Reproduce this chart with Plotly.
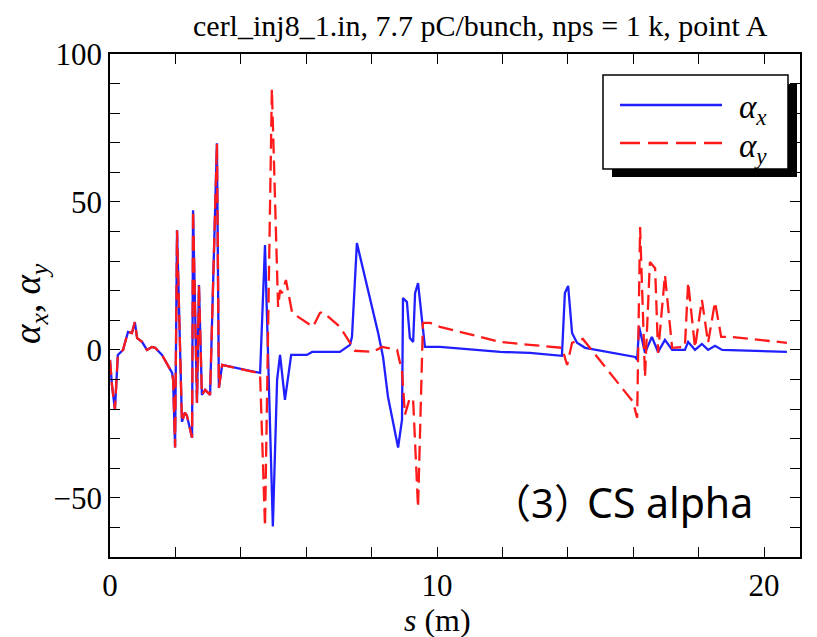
import plotly.graph_objects as go

# ---- data ----
s_x = [0.00, 0.06, 0.15, 0.24, 0.40, 0.55, 0.67, 0.76, 0.83, 0.98, 1.13, 1.28, 1.38, 1.59, 1.90, 1.93,
       1.99, 2.05, 2.20, 2.29, 2.35, 2.51, 2.54, 2.66, 2.72, 2.81, 2.91, 3.06, 3.27, 3.33, 3.43, 4.53,
       4.59, 4.74, 4.98, 5.11, 5.20, 5.35, 5.54, 6.02, 6.18, 7.03, 7.34, 7.40, 7.55, 8.20, 8.35, 8.50,
       8.81, 8.93, 8.96, 9.08, 9.17, 9.27, 9.33, 9.42, 9.57, 9.63, 10.09, 11.93, 12.84, 13.82, 13.91,
       14.01, 14.13, 14.28, 14.53, 16.06, 16.12, 16.18, 16.36, 16.57, 16.76, 16.97, 17.19, 17.58, 17.68,
       17.89, 18.10, 18.29, 18.50, 18.72, 20.70]
alpha_x = [-3.4, -11.8, -20.2, -1.7, 0.0, 6.1, 5.7, 9.4, 4.0, 2.7, 0.0, 1.0, 0.7, -1.7, -7.8, -10.1,
           -33.0, 40.4, -24.3, -21.2, -22.2, -29.7, 47.2, -17.9, 21.9, -15.2, -13.5, -15.2, 69.8, -12.8, -5.1, -7.8,
           -7.8, 35.4, -59.7, -10.1, -1.7, -16.9, -1.7, -1.7, -0.7, -0.7, 1.7, 4.4, 36.1, 5.7, -2.4, -15.8,
           -33.0, -23.6, 17.5, 16.2, 4.0, 2.7, 19.2, 22.6, 7.8, 1.0, 1.0, -0.7, -1.0, -2.0, 19.2,
           21.6, 5.7, 2.4, 0.7, -2.4, -3.4, 7.8, -1.0, 4.4, -0.7, 3.4, 0.0, 0.0, 2.7,
           0.0, 2.0, 0.0, 1.4, 0.0, -0.7]

s_y = [0.00, 0.06, 0.15, 0.24, 0.40, 0.55, 0.67, 0.76, 0.83, 0.98, 1.13, 1.28, 1.38, 1.59, 1.90, 1.93,
       1.99, 2.05, 2.20, 2.29, 2.35, 2.51, 2.54, 2.66, 2.72, 2.81, 2.91, 3.06, 3.27, 3.33, 3.43, 4.53,
       4.59, 4.74, 4.95, 5.14, 5.20, 5.26, 5.38, 5.57, 6.21, 6.42, 6.51, 7.03, 7.25, 7.49, 8.04, 8.32,
       8.78, 8.93, 9.02, 9.17, 9.27, 9.42, 9.57, 9.79, 10.09, 11.93, 12.84, 13.82, 13.98, 14.13, 14.46,
       15.99, 16.12, 16.21, 16.36, 16.51, 16.67, 16.76, 16.97, 17.19, 17.58, 17.68, 17.89, 18.10, 18.29,
       18.50, 18.69, 18.96, 20.70]
alpha_y = [-3.4, -11.8, -20.2, -1.7, 0.0, 6.1, 5.7, 9.4, 4.0, 2.7, 0.0, 1.0, 0.7, -1.7, -7.8, -10.1,
           -33.0, 40.4, -24.3, -21.2, -22.2, -29.7, 47.2, -17.9, 21.9, -15.2, -13.5, -15.2, 69.8, -12.8, -5.1, -7.8,
           -8.4, -59.7, 88.3, 14.5, 20.2, 19.2, 23.6, 12.5, 7.8, 12.5, 12.8, 7.8, 4.0, -0.3, -0.7, 1.0,
           0.0, -7.4, -21.9, -16.2, -16.9, -53.3, 9.1, 9.1, 7.8, 2.7, 1.7, 0.7, -5.1, 2.4, 3.7,
           -17.5, -22.9, 41.5, -9.1, 29.7, 27.6, -1.0, 25.3, 0.7, 1.0, 22.9, 0.7, 16.9, 2.4,
           16.2, 4.4, 4.4, 2.4]

x_tick_vals = [0, 10, 20]
y_tick_vals = [-50, 0, 50, 100]
y_tick_text = ["−50", "0", "50", "100"]
title_text = "cerl_inj8_1.in, 7.7 pC/bunch, nps = 1 k, point A"
legend_labels = ["<i>α<sub>x</sub></i>", "<i>α<sub>y</sub></i>"]
panel_number = "（3）"
panel_label = "CS alpha"

BLUE = "#1f1fff"
RED = "#ff1a1a"
SERIF = "Liberation Serif, Times New Roman, serif"
SANS = "Noto Sans, Noto Sans CJK JP"

W, H = 817, 637
L, R, T, B = 110, 17, 54, 80
PW, PH = W - L - R, H - T - B


def px(x):
    return (x - L) / PW


def py(y):
    return (H - B - y) / PH


fig = go.Figure()
fig.add_trace(go.Scatter(x=s_x, y=alpha_x, mode="lines", name="αx",
                         line=dict(color=BLUE, width=2.3), showlegend=False))
fig.add_trace(go.Scatter(x=s_y, y=alpha_y, mode="lines", name="αy",
                         line=dict(color=RED, width=2.3, dash="15px,7px"), showlegend=False))

axis_common = dict(showline=True, linecolor="black", linewidth=1.5, mirror="ticks",
                   ticks="inside", ticklen=10, tickwidth=1.2, tickcolor="black",
                   showgrid=False, zeroline=False,
                   tickfont=dict(family=SERIF, size=31, color="black"))

fig.update_xaxes(range=[0, 21.1], tickvals=x_tick_vals,
                 minor=dict(dtick=2, ticks="inside", ticklen=10, tickcolor="black", tickwidth=1.2, showgrid=False),
                 **axis_common)
fig.update_yaxes(range=[-70, 100], tickvals=y_tick_vals, ticktext=y_tick_text,
                 minor=dict(dtick=10, ticks="inside", ticklen=10, tickcolor="black", tickwidth=1.2, showgrid=False),
                 **axis_common)

shapes = [
    # legend shadow
    dict(type="rect", xref="paper", yref="paper", x0=px(612), x1=px(797), y0=py(177), y1=py(84),
         fillcolor="black", line=dict(width=0), layer="above"),
    # legend box
    dict(type="rect", xref="paper", yref="paper", x0=px(603), x1=px(788), y0=py(169), y1=py(75),
         fillcolor="white", line=dict(color="black", width=1.5), layer="above"),
    dict(type="line", xref="paper", yref="paper", x0=px(620), x1=px(722), y0=py(105), y1=py(105),
         line=dict(color=BLUE, width=2.3), layer="above"),
    dict(type="line", xref="paper", yref="paper", x0=px(620), x1=px(722), y0=py(143), y1=py(143),
         line=dict(color=RED, width=2.3, dash="20px,8px"), layer="above"),
]

annotations = [
    dict(text=title_text, xref="paper", yref="paper", x=px(480), y=py(25), showarrow=False,
         xanchor="center", yanchor="middle", font=dict(family=SERIF, size=30, color="black")),
    dict(text=legend_labels[0], xref="paper", yref="paper", x=px(737), y=py(110), showarrow=False,
         xanchor="left", yanchor="middle", font=dict(family=SERIF, size=33, color="black")),
    dict(text=legend_labels[1], xref="paper", yref="paper", x=px(737), y=py(148), showarrow=False,
         xanchor="left", yanchor="middle", font=dict(family=SERIF, size=33, color="black")),
    dict(text="<i>α<sub>x</sub></i>, <i>α<sub>y</sub></i>", xref="paper", yref="paper", x=px(30), y=py(304),
         showarrow=False, textangle=-90, xanchor="center", yanchor="middle",
         font=dict(family=SERIF, size=37, color="black")),
    dict(text="<i>s</i> (m)", xref="paper", yref="paper", x=px(437), y=py(620), showarrow=False,
         xanchor="center", yanchor="middle", font=dict(family=SERIF, size=32, color="black")),
    dict(text=panel_number, xref="paper", yref="paper", x=px(542), y=py(502), showarrow=False,
         xanchor="center", yanchor="middle", font=dict(family=SANS, size=40, color="black")),
    dict(text=panel_label, xref="paper", yref="paper", x=px(585), y=py(502), showarrow=False,
         xanchor="left", yanchor="middle", font=dict(family=SANS, size=41, color="black")),
]

fig.update_layout(width=W, height=H, margin=dict(l=L, r=R, t=T, b=B),
                  paper_bgcolor="white", plot_bgcolor="white",
                  shapes=shapes, annotations=annotations, showlegend=False)

fig.write_html("out.html")
